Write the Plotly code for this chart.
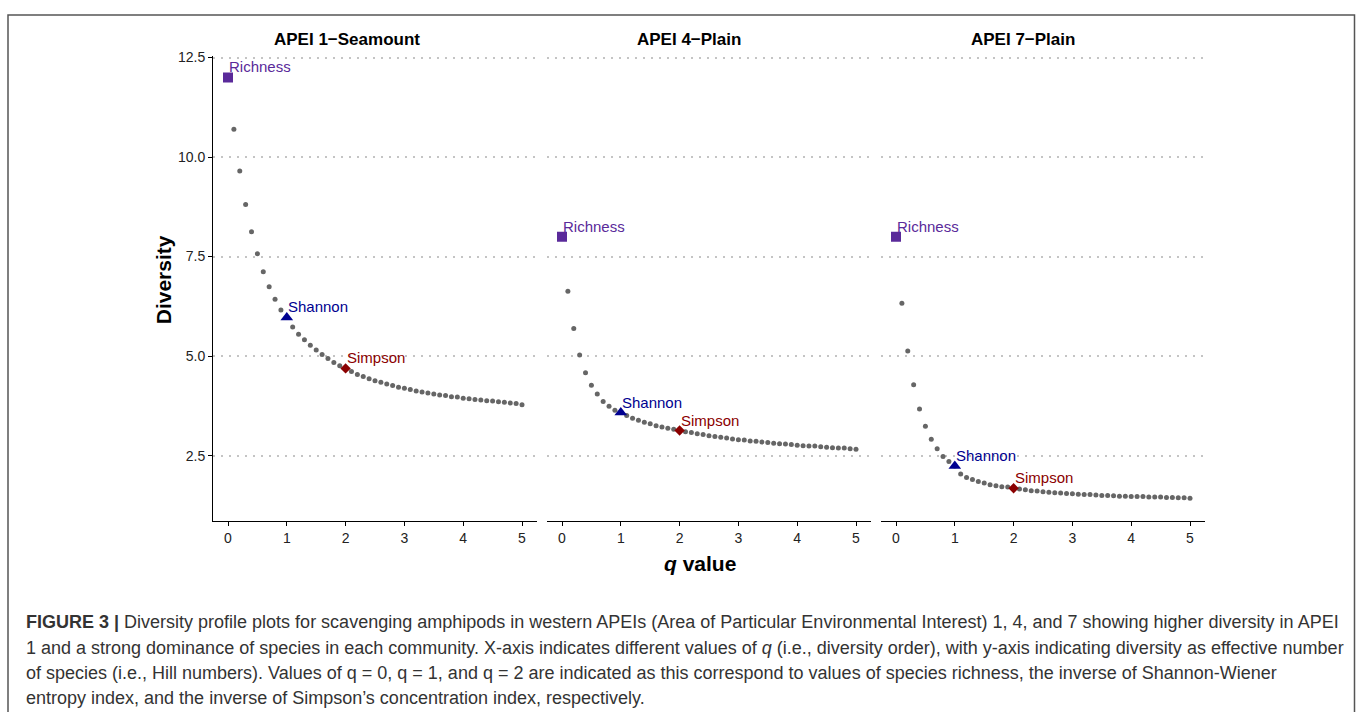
import plotly.graph_objects as go

# ---------------- data ----------------
q_values = [0.0, 0.1, 0.2, 0.3, 0.4, 0.5, 0.6, 0.7, 0.8, 0.9,
            1.0, 1.1, 1.2, 1.3, 1.4, 1.5, 1.6, 1.7, 1.8, 1.9,
            2.0, 2.1, 2.2, 2.3, 2.4, 2.5, 2.6, 2.7, 2.8, 2.9,
            3.0, 3.1, 3.2, 3.3, 3.4, 3.5, 3.6, 3.7, 3.8, 3.9,
            4.0, 4.1, 4.2, 4.3, 4.4, 4.5, 4.6, 4.7, 4.8, 4.9, 5.0]

panel_names = ["APEI 1\u2212Seamount", "APEI 4\u2212Plain", "APEI 7\u2212Plain"]

apei1_diversity = [12.00, 10.70, 9.65, 8.81, 8.12, 7.57, 7.12, 6.74, 6.43, 6.16,
                   5.97, 5.73, 5.55, 5.41, 5.27, 5.15, 5.04, 4.94, 4.84, 4.76,
                   4.69, 4.61, 4.54, 4.49, 4.43, 4.38, 4.34, 4.30, 4.26, 4.22,
                   4.19, 4.16, 4.12, 4.10, 4.07, 4.05, 4.02, 4.01, 3.98, 3.97,
                   3.94, 3.93, 3.91, 3.90, 3.88, 3.87, 3.85, 3.84, 3.82, 3.81, 3.78]

apei4_diversity = [8.00, 6.63, 5.69, 5.03, 4.58, 4.27, 4.05, 3.86, 3.74, 3.64,
                   3.58, 3.51, 3.44, 3.39, 3.34, 3.30, 3.25, 3.22, 3.19, 3.16,
                   3.13, 3.10, 3.08, 3.05, 3.03, 3.00, 2.98, 2.96, 2.94, 2.92,
                   2.90, 2.89, 2.87, 2.86, 2.84, 2.83, 2.81, 2.80, 2.79, 2.78,
                   2.76, 2.75, 2.74, 2.74, 2.72, 2.71, 2.70, 2.69, 2.69, 2.67, 2.66]

apei7_diversity = [8.00, 6.33, 5.13, 4.28, 3.67, 3.24, 2.91, 2.67, 2.48, 2.35,
                   2.24, 2.04, 1.95, 1.90, 1.85, 1.81, 1.77, 1.74, 1.72, 1.71,
                   1.68, 1.66, 1.64, 1.62, 1.61, 1.59, 1.58, 1.57, 1.56, 1.55,
                   1.54, 1.53, 1.52, 1.52, 1.51, 1.50, 1.50, 1.49, 1.48, 1.48,
                   1.47, 1.47, 1.47, 1.46, 1.46, 1.46, 1.45, 1.45, 1.44, 1.44, 1.43]

panel_values = [apei1_diversity, apei4_diversity, apei7_diversity]

index_names = ["Richness", "Shannon", "Simpson"]
index_q = [0.0, 1.0, 2.0]
index_colors = ["#5a2a9a", "#000090", "#8b0000"]
index_symbols = ["square", "triangle-up", "diamond"]
index_sizes = [10, 11, 8]

y_ticks = [2.5, 5.0, 7.5, 10.0, 12.5]
x_ticks = [0, 1, 2, 3, 4, 5]

caption_lines = [
    "<b>FIGURE 3 |</b> Diversity profile plots for scavenging amphipods in western APEIs (Area of Particular Environmental Interest) 1, 4, and 7 showing higher diversity in APEI",
    "1 and a strong dominance of species in each community. X-axis indicates different values of <i>q</i> (i.e., diversity order), with y-axis indicating diversity as effective number",
    "of species (i.e., Hill numbers). Values of q = 0, q = 1, and q = 2 are indicated as this correspond to values of species richness, the inverse of Shannon-Wiener",
    "entropy index, and the inverse of Simpson\u2019s concentration index, respectively.",
]

# ---------------- layout geometry ----------------
W, H = 1357, 712
FONT = "Liberation Sans, Arial, sans-serif"
x_domains = [[213.3 / W, 536.7 / W], [547.3 / W, 870.7 / W], [881.3 / W, 1204.7 / W]]
y_domain = [1 - 518.6 / H, 1 - 49.8 / H]
strip_x = [347, 689, 1023]

fig = go.Figure()

for i, vals in enumerate(panel_values):
    xa = "x" if i == 0 else f"x{i+1}"
    ya = "y" if i == 0 else f"y{i+1}"
    fig.add_trace(go.Scatter(
        x=q_values, y=vals, mode="markers", xaxis=xa, yaxis=ya,
        marker=dict(color="#666666", size=5), showlegend=False, hoverinfo="skip"))
    for k in range(3):
        qi = q_values.index(index_q[k])
        fig.add_trace(go.Scatter(
            x=[index_q[k]], y=[vals[qi]], mode="markers", xaxis=xa, yaxis=ya,
            marker=dict(color=index_colors[k], size=index_sizes[k], symbol=index_symbols[k]),
            showlegend=False, hoverinfo="skip"))
        fig.add_annotation(x=index_q[k], y=vals[qi], xref=xa, yref=ya,
                           text=index_names[k], showarrow=False,
                           xanchor="left", yanchor="bottom", xshift=-1, yshift=0,
                           font=dict(family=FONT, size=15, color=index_colors[k]))
    fig.add_annotation(x=strip_x[i] / W, y=1 - 33 / H, xref="paper", yref="paper",
                       text="<b>" + panel_names[i] + "</b>", showarrow=False,
                       xanchor="center", yanchor="middle",
                       font=dict(family=FONT, size=17, color="black"))

axis_font = dict(family=FONT, size=14, color="#222222")

for i in range(3):
    xkey = "xaxis" if i == 0 else f"xaxis{i+1}"
    ykey = "yaxis" if i == 0 else f"yaxis{i+1}"
    yanchor = "y" if i == 0 else f"y{i+1}"
    xanchor = "x" if i == 0 else f"x{i+1}"
    fig.layout[xkey] = dict(
        domain=x_domains[i], anchor=yanchor, range=[-0.25, 5.25],
        tickvals=x_ticks, ticks="outside", ticklen=4, tickwidth=1.2, tickcolor="black",
        showline=True, linecolor="black", linewidth=1.4, showgrid=False, zeroline=False,
        tickfont=axis_font, fixedrange=True)
    fig.layout[ykey] = dict(
        domain=y_domain, anchor=xanchor, range=[0.87, 12.53],
        tickvals=y_ticks, ticktext=[f"{v:.1f}" for v in y_ticks],
        showgrid=True, gridcolor="#c4c4c4", gridwidth=1.6, griddash="2px,6px",
        zeroline=False, fixedrange=True,
        showline=(i == 0), linecolor="black", linewidth=1.4,
        ticks="outside" if i == 0 else "", ticklen=4, tickwidth=1.2, tickcolor="black",
        showticklabels=(i == 0), tickfont=axis_font)

fig.add_annotation(x=163 / W, y=1 - 276 / H, xref="paper", yref="paper",
                   text="<b>Diversity</b>", textangle=-90, showarrow=False,
                   xanchor="center", yanchor="middle",
                   font=dict(family=FONT, size=21, color="black"))
fig.add_annotation(x=700 / W, y=1 - 562 / H, xref="paper", yref="paper",
                   text="<b><i>q</i> value</b>", showarrow=False,
                   xanchor="center", yanchor="middle",
                   font=dict(family=FONT, size=21, color="black"))

cap_y = [621, 647, 673, 698]
for line, yy in zip(caption_lines, cap_y):
    fig.add_annotation(x=24 / W, y=1 - yy / H, xref="paper", yref="paper",
                       text=line, showarrow=False, xanchor="left", yanchor="middle",
                       font=dict(family=FONT, size=18, color="#333333"))

fig.add_shape(type="rect", xref="paper", yref="paper",
              x0=8 / W, x1=1354.5 / W, y0=-0.05, y1=1 - 8 / H,
              line=dict(color="#555555", width=1.5), fillcolor="rgba(0,0,0,0)", layer="below")

fig.update_layout(width=W, height=H, margin=dict(l=0, r=0, t=0, b=0),
                  paper_bgcolor="white", plot_bgcolor="white", showlegend=False)

post = (
    "var gd=document.getElementById('{plot_id}');"
    "gd.style.position='absolute';gd.style.top='0px';gd.style.left='0px';"
    "document.documentElement.style.margin='0px';document.documentElement.style.padding='0px';"
    "document.documentElement.style.height='712px';document.documentElement.style.overflow='hidden';"
    "document.body.style.margin='0px';document.body.style.padding='0px';"
    "document.body.style.height='712px';document.body.style.overflow='hidden';"
)
fig.write_html("out.html", config={"displayModeBar": False}, post_script=post)
